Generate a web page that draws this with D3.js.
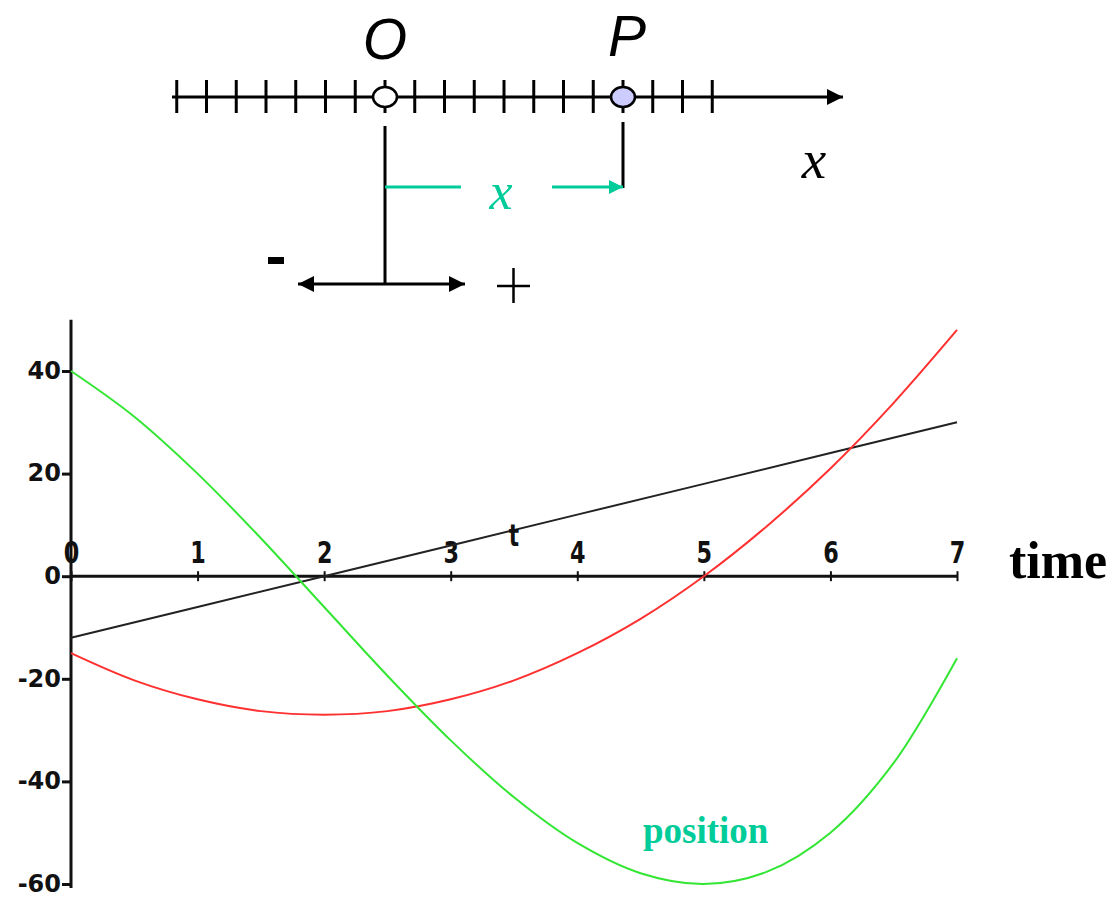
<!DOCTYPE html>
<html><head><meta charset="utf-8">
<script src="https://cdn.jsdelivr.net/npm/d3@7"></script>
<style>body{margin:0;background:#fff}svg{display:block}</style>
</head><body>
<script>
// ---- data ----
const timeValues = [0,0.5,1,1.5,2,2.5,3,3.5,4,4.5,5,5.5,6,6.5,7];
const positionValues = [40,31.1,20,7.4,-6,-19.4,-32,-43.1,-52,-57.9,-60,-57.6,-50,-36.4,-16];
const velocityValues = [-15,-20.3,-24,-26.3,-27,-26.3,-24,-20.3,-15,-8.3,0,9.8,21,33.8,48];
const accelTimes = [0,1,2,3,4,5,6,7];
const accelValues = [-12,-6,0,6,12,18,24,30];
const xTickLabels = [0,1,2,3,4,5,6,7];
const yTickLabels = [-60,-40,-20,0,20,40];
const numberLineTicks = [-7,-6,-5,-4,-3,-2,-1,0,1,2,3,4,5,6,7,8,9,10,11];
const pointO = 0, pointP = 8;

const W = 1115, H = 897;
const svg = d3.select("body").append("svg").attr("width", W).attr("height", H);

// ---- top diagram ----
const u = d3.scaleLinear().domain([0, 8]).range([385, 623]);
const defs = svg.append("defs");
function marker(id, color, w, h) {
  defs.append("marker").attr("id", id).attr("viewBox", "0 0 10 10")
    .attr("refX", 10).attr("refY", 5).attr("markerUnits", "userSpaceOnUse")
    .attr("markerWidth", w).attr("markerHeight", h).attr("orient", "auto-start-reverse")
    .append("path").attr("d", "M0,0 L10,5 L0,10 z").attr("fill", color);
}
marker("arrBlack", "#000", 16, 16);
marker("arrGreen", "#00cc99", 16, 14);

const diag = svg.append("g");
diag.append("line").attr("x1", 172).attr("x2", 843).attr("y1", 97).attr("y2", 97)
  .attr("stroke", "#000").attr("stroke-width", 3).attr("marker-end", "url(#arrBlack)");
diag.selectAll("line.nt").data(numberLineTicks).join("line").attr("class", "nt")
  .attr("x1", d => u(d)).attr("x2", d => u(d)).attr("y1", 80).attr("y2", 113)
  .attr("stroke", "#000").attr("stroke-width", 3);
diag.append("ellipse").attr("cx", u(pointO)).attr("cy", 97).attr("rx", 12).attr("ry", 10)
  .attr("fill", "#fff").attr("stroke", "#000").attr("stroke-width", 2.5);
diag.append("ellipse").attr("cx", u(pointP)).attr("cy", 97).attr("rx", 12).attr("ry", 10)
  .attr("fill", "#ccccff").attr("stroke", "#000").attr("stroke-width", 2.5);
diag.append("text").attr("x", u(pointO)).attr("y", 59).attr("text-anchor", "middle")
  .attr("font-family", "Liberation Sans, Arial, sans-serif").attr("font-style", "italic")
  .attr("font-size", 57).text("O");
diag.append("text").attr("x", u(pointP) + 4).attr("y", 56).attr("text-anchor", "middle")
  .attr("font-family", "Liberation Sans, Arial, sans-serif").attr("font-style", "italic")
  .attr("font-size", 57).text("P");
// vertical lines
diag.append("line").attr("x1", u(pointO)).attr("x2", u(pointO)).attr("y1", 126).attr("y2", 284)
  .attr("stroke", "#000").attr("stroke-width", 3);
diag.append("line").attr("x1", u(pointP)).attr("x2", u(pointP)).attr("y1", 122).attr("y2", 188)
  .attr("stroke", "#000").attr("stroke-width", 3);
// green displacement
diag.append("line").attr("x1", u(pointO)).attr("x2", 461).attr("y1", 187).attr("y2", 187)
  .attr("stroke", "#00cc99").attr("stroke-width", 3);
diag.append("line").attr("x1", 552).attr("x2", u(pointP)).attr("y1", 187).attr("y2", 187)
  .attr("stroke", "#00cc99").attr("stroke-width", 3).attr("marker-end", "url(#arrGreen)");
diag.append("text").attr("x", 501).attr("y", 209).attr("text-anchor", "middle")
  .attr("font-family", "Liberation Serif, Times New Roman, serif").attr("font-style", "italic")
  .attr("font-size", 52).attr("fill", "#00cc99").text("x");
diag.append("text").attr("x", 814).attr("y", 178).attr("text-anchor", "middle")
  .attr("font-family", "Liberation Serif, Times New Roman, serif").attr("font-style", "italic")
  .attr("font-size", 55).attr("fill", "#000").text("x");
// sign arrows
diag.append("line").attr("x1", 298).attr("x2", 465).attr("y1", 284).attr("y2", 284)
  .attr("stroke", "#000").attr("stroke-width", 3)
  .attr("marker-start", "url(#arrBlack)").attr("marker-end", "url(#arrBlack)");
diag.append("rect").attr("x", 268).attr("y", 257).attr("width", 16).attr("height", 7).attr("fill", "#000");
diag.append("line").attr("x1", 497).attr("x2", 530).attr("y1", 286).attr("y2", 286)
  .attr("stroke", "#000").attr("stroke-width", 2.5);
diag.append("line").attr("x1", 513.5).attr("x2", 513.5).attr("y1", 268).attr("y2", 303)
  .attr("stroke", "#000").attr("stroke-width", 2.5);

// ---- chart ----
const x = d3.scaleLinear().domain([0, 7]).range([71, 957]);
const y = d3.scaleLinear().domain([-60, 40]).range([884, 371]);

const g = svg.append("g");
// axis lines
g.append("line").attr("x1", x(0)).attr("x2", x(0)).attr("y1", y(50)).attr("y2", y(-60.8))
  .attr("stroke", "#111").attr("stroke-width", 3);
g.append("line").attr("x1", x(0)).attr("x2", x(7)).attr("y1", y(0)).attr("y2", y(0))
  .attr("stroke", "#111").attr("stroke-width", 3);

const yAxis = g.append("g").attr("transform", `translate(${x(0)},0)`)
  .call(d3.axisLeft(y).tickValues(yTickLabels).tickSize(9).tickPadding(1).tickFormat(d => String(d)));
yAxis.select(".domain").remove();
yAxis.selectAll(".tick line").attr("stroke", "#111").attr("stroke-width", 3);
yAxis.selectAll(".tick text").attr("font-family", "DejaVu Sans, sans-serif").attr("font-weight", "bold")
  .attr("font-size", 24).attr("fill", "#111").attr("dy", "0.3em");

const xAxis = g.append("g").attr("transform", `translate(0,${y(0)})`)
  .call(d3.axisTop(x).tickValues(xTickLabels).tickSize(5).tickPadding(8).tickFormat(d => String(d)));
xAxis.select(".domain").remove();
xAxis.selectAll(".tick line").attr("y1", 5).attr("y2", -5).attr("stroke", "#111").attr("stroke-width", 2);
xAxis.selectAll(".tick text").attr("font-family", "DejaVu Sans, sans-serif")
  .attr("font-weight", "bold").attr("font-size", 31).attr("fill", "#111")
  .attr("transform", "scale(0.72,1)");

// lines
const line = d3.line().x(d => x(d[0])).y(d => y(d[1])).curve(d3.curveCatmullRom);
g.append("path").datum(accelTimes.map((t, i) => [t, accelValues[i]]))
  .attr("d", d3.line().x(d => x(d[0])).y(d => y(d[1]))).attr("fill", "none")
  .attr("stroke", "#222").attr("stroke-width", 2);
g.append("path").datum(timeValues.map((t, i) => [t, velocityValues[i]]))
  .attr("d", line).attr("fill", "none").attr("stroke", "#ff3030").attr("stroke-width", 2);
g.append("path").datum(timeValues.map((t, i) => [t, positionValues[i]]))
  .attr("d", line).attr("fill", "none").attr("stroke", "#33e633").attr("stroke-width", 2);

// labels
g.append("text").attr("transform", `translate(${x(3.5)},546) scale(0.72,1)`).attr("text-anchor", "middle")
  .attr("font-family", "DejaVu Sans, sans-serif").attr("font-weight", "bold")
  .attr("font-size", 30).attr("fill", "#111").text("t");
g.append("text").attr("x", 1009).attr("y", 578)
  .attr("font-family", "Liberation Serif, Times New Roman, serif").attr("font-weight", "bold")
  .attr("font-size", 52).attr("fill", "#000").text("time");
g.append("text").attr("x", 643).attr("y", 843)
  .attr("font-family", "Liberation Serif, Times New Roman, serif").attr("font-weight", "bold")
  .attr("font-size", 37).attr("fill", "#00cc99").text("position");
</script>
</body></html>
